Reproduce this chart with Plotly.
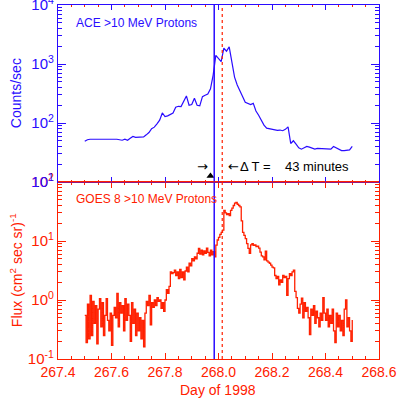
import numpy as np
import plotly.graph_objects as go

BLUE = "#2a0cff"
RED = "#ff2000"
FONT = "Liberation Sans"

# ACE >10 MeV protons (counts/sec), 0.01-day steps from 267.50 to 268.50
ace_start, ace_step = 267.50, 0.01
ace_counts = [
    49, 52, 53, 53, 53, 54, 53, 54, 53, 53,
    53, 53, 53, 52, 51, 53, 51, 55, 59, 57,
    57, 58, 58, 63, 69, 80, 85, 97, 112, 148,
    128, 132, 138, 148, 185, 192, 190, 240, 288, 200,
    205, 262, 200, 195, 280, 295, 310, 380, 650, 1400,
    1250, 1100, 1850, 1650, 1950, 1000, 600, 440, 340, 280,
    225, 215, 205, 215, 160, 135, 108, 92, 82, 80,
    77, 76, 75, 76, 74, 78, 86, 45, 50, 44,
    38, 36, 38, 40, 39, 38, 36, 37, 37, 36,
    37, 36, 36, 40, 38, 36, 34, 34, 35, 35,
    40,
]

# GOES 8 >10 MeV protons (cm^2 sec sr)^-1, 0.005-day steps from 267.500 to 268.500
goes_start, goes_step = 267.500, 0.005
goes_flux = [
    0.55, 0.19, 0.85, 0.22, 1.2, 0.25, 0.95, 0.4, 0.8, 0.18,
    0.7, 1.05, 0.35, 0.9, 0.25, 0.55, 1.05, 0.45, 0.3, 0.6,
    0.17, 0.55, 0.75, 0.5, 1.3, 0.35, 0.9, 0.6, 0.8, 0.3,
    1.05, 0.45, 0.85, 0.55, 0.2, 0.9, 0.4, 0.7, 0.25, 0.6,
    0.3, 0.5, 0.22, 0.45, 0.16, 0.6, 0.95, 0.8, 1.2, 0.38,
    0.9, 0.75, 1.0, 0.8, 1.1, 0.95, 1.0, 0.72, 0.9, 0.64,
    1.0, 1.5, 1.3, 1.7, 3.0, 2.8, 2.9, 3.2, 2.6, 3.0,
    2.3, 3.3, 2.4, 3.0, 2.2, 3.1, 3.6, 3.0, 4.2, 3.8,
    5.0, 4.6, 5.4, 5.0, 6.2, 7.5, 6.0, 7.0, 5.8, 6.8,
    6.2, 7.6, 6.4, 5.6, 7.0, 5.8, 6.6, 5.4, 8.5, 10.4,
    11.5, 13.0, 14.0, 15.3, 33, 30, 28, 29, 27, 33,
    36, 40, 44, 45, 42, 40, 38, 22, 14, 12.5,
    11, 9.0, 7.5, 6.2, 8.6, 9.0, 8.4, 8.6, 8.0, 8.2,
    7.6, 6.5, 5.6, 5.4, 4.8, 6.7, 4.6, 4.4, 4.2, 3.9,
    3.6, 3.5, 2.6, 2.3, 2.5, 1.8, 2.2, 2.0, 2.6, 2.4,
    2.5, 1.2, 2.3, 2.8, 2.6, 3.0, 3.2, 1.4, 1.1, 0.72,
    0.6, 0.85, 1.07, 0.5, 0.9, 0.64, 0.75, 0.5, 0.26, 0.7,
    0.55, 0.8, 0.4, 0.65, 0.5, 0.35, 0.6, 0.45, 1.1, 0.6,
    0.45, 0.7, 0.35, 0.55, 0.4, 0.7, 0.3, 0.19, 0.6, 0.35,
    0.55, 0.3, 0.45, 0.25, 0.7, 1.0, 0.35, 0.5, 0.3, 0.2,
    0.46,
]

ace_time = [ace_start + ace_step * i for i in range(len(ace_counts))]
goes_time = [goes_start + goes_step * i for i in range(len(goes_flux))]

ace_onset = 267.984     # blue solid line
goes_onset = 268.014    # red dotted line
delta_label = "\u0394 T =\u00a0\u00a0\u00a0 43 minutes"
marker_day, marker_val = 267.970, 12.6

x_ticks = [267.4, 267.6, 267.8, 268.0, 268.2, 268.4, 268.6]
x_ticktext = ["267.4", "267.6", "267.8", "268.0", "268.2", "268.4", "268.6"]
ace_yticks = [10, 100, 1000, 10000]
ace_yticktext = ["10<sup>1</sup>", "10<sup>2</sup>", "10<sup>3</sup>", "10<sup>4</sup>"]
goes_yticks = [0.1, 1, 10, 100]
goes_yticktext = ["10<sup>-1</sup>", "10<sup>0</sup>", "10<sup>1</sup>", "10<sup>2</sup>"]
ace_minor = [m * 10 ** e for e in (1, 2, 3) for m in range(2, 10)]
goes_minor = [m * 10 ** e for e in (-1, 0, 1) for m in range(2, 10)]

fig = go.Figure()
fig.add_trace(go.Scatter(x=ace_time, y=ace_counts, xaxis="x2", yaxis="y2",
                         mode="lines", line=dict(color=BLUE, width=1.2),
                         showlegend=False, hoverinfo="skip"))
fig.add_trace(go.Scatter(x=goes_time, y=goes_flux, xaxis="x", yaxis="y",
                         mode="lines", line=dict(color=RED, width=1.3, shape="hv"),
                         showlegend=False, hoverinfo="skip"))
fig.add_trace(go.Scatter(x=[marker_day], y=[marker_val], xaxis="x2", yaxis="y2",
                         mode="markers", marker=dict(symbol="triangle-up", size=7, color="black"),
                         showlegend=False, hoverinfo="skip"))

xcommon = dict(range=[267.4, 268.6], showgrid=False, zeroline=False, showline=True,
               mirror="ticks", ticks="inside", tickvals=x_ticks, automargin=False,
               ticklabeloverflow="allow")
ycommon = dict(type="log", showgrid=False, zeroline=False, showline=True, mirror="ticks",
               linewidth=1.2, ticks="inside", ticklen=8, automargin=False,
               ticklabeloverflow="allow")

fig.update_layout(
    template="none",
    width=399, height=400,
    margin=dict(l=58, r=20, t=5, b=41),
    plot_bgcolor="white", paper_bgcolor="white",
    font=dict(family=FONT, size=14, color=RED),
    xaxis=dict(**xcommon, anchor="y", domain=[0, 1], ticktext=x_ticktext,
               linecolor=RED, tickcolor=RED, ticklen=6, linewidth=1.2,
               tickfont=dict(size=14, color=RED, family=FONT),
               minor=dict(dtick=0.05, tick0=267.4, ticks="inside", ticklen=3, tickcolor=RED)),
    xaxis2=dict(**xcommon, anchor="y2", domain=[0, 1], matches="x", showticklabels=False,
                linecolor=BLUE, tickcolor=BLUE, ticklen=5, linewidth=1.2,
                minor=dict(dtick=0.05, tick0=267.4, ticks="inside", ticklen=2, tickcolor=RED)),
    yaxis=dict(**ycommon, range=[-1.0001, 2.0001], domain=[0, 0.5], anchor="x",
               linecolor=RED, tickcolor=RED,
               tickvals=goes_yticks, ticktext=goes_yticktext,
               tickfont=dict(size=15, color=RED, family=FONT),
               minor=dict(tickvals=goes_minor, ticks="inside", ticklen=4, tickcolor=RED)),
    yaxis2=dict(**ycommon, range=[0.9999, 4.0001], domain=[0.5, 1], anchor="x2",
                linecolor=BLUE, tickcolor=BLUE,
                tickvals=ace_yticks, ticktext=ace_yticktext,
                tickfont=dict(size=15, color=BLUE, family=FONT),
                minor=dict(tickvals=ace_minor, ticks="inside", ticklen=4, tickcolor=BLUE)),
)

fig.add_shape(type="line", xref="x", yref="paper", x0=ace_onset, x1=ace_onset, y0=0, y1=1,
              line=dict(color=BLUE, width=1.5))
fig.add_shape(type="line", xref="x", yref="paper", x0=goes_onset, x1=goes_onset, y0=0, y1=1,
              line=dict(color=RED, width=1.2, dash="dot"))
fig.add_shape(type="line", xref="paper", yref="paper", x0=0, x1=1, y0=0.5, y1=0.5,
              line=dict(color=RED, width=1))

ann = [
    dict(text="ACE >10 MeV Protons", x=0.05, y=0.95, color=BLUE, size=12, xa="left"),
    dict(text="GOES 8 >10 MeV Protons", x=0.05, y=0.452, color=RED, size=12, xa="left"),
    dict(text="Day of 1998", x=0.498, y=-0.0876, color=RED, size=14, xa="center"),
]
for a in ann:
    fig.add_annotation(text=a["text"], xref="paper", yref="paper", x=a["x"], y=a["y"],
                       xanchor=a["xa"], yanchor="middle", showarrow=False,
                       font=dict(family=FONT, size=a["size"], color=a["color"]))

fig.add_annotation(text="Counts/sec", xref="paper", yref="paper", x=-0.132, y=0.75,
                   textangle=-90, xanchor="center", yanchor="middle", showarrow=False,
                   font=dict(family=FONT, size=14, color=BLUE))
fig.add_annotation(text="Flux (cm<sup>2</sup> sec sr)<sup>-1</sup>", xref="paper", yref="paper",
                   x=-0.132, y=0.25, textangle=-90, xanchor="center", yanchor="middle",
                   showarrow=False, font=dict(family=FONT, size=14, color=RED))
fig.add_annotation(text="\u2192", xref="paper", yref="paper", x=(202.5 - 58) / 321, y=0.543,
                   xanchor="center", yanchor="middle", showarrow=False,
                   font=dict(family="DejaVu Sans", size=13, color="black"))
fig.add_annotation(text="\u2190", xref="paper", yref="paper", x=(226 - 58) / 321, y=0.543,
                   xanchor="left", yanchor="middle", showarrow=False,
                   font=dict(family="DejaVu Sans", size=13, color="black"))
fig.add_annotation(text=delta_label, xref="paper", yref="paper", x=(238 - 58) / 321, y=0.543,
                   xanchor="left", yanchor="middle", showarrow=False,
                   font=dict(family=FONT, size=13, color="black"))

fig.write_html("out.html", config={"displayModeBar": False},
               post_script="document.body.style.margin='0';")
